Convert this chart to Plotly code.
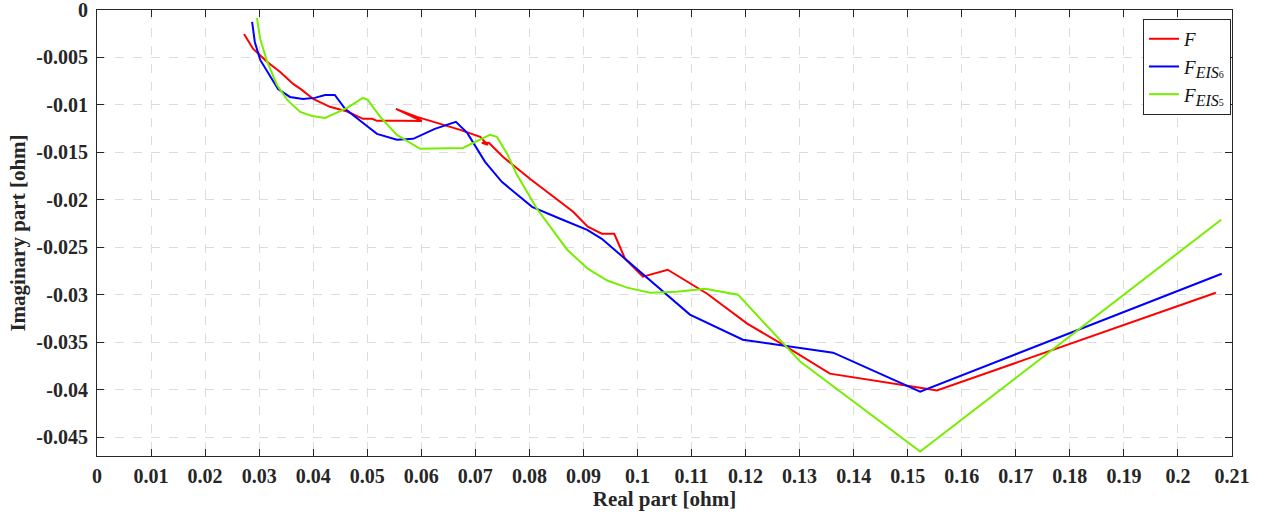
import plotly.graph_objects as go

# Nyquist data: real / imaginary impedance parts [ohm]
f_re = [0.0272, 0.0289, 0.0315, 0.0339, 0.0363, 0.0379, 0.0400, 0.0431, 0.0463, 0.0492,
        0.0509, 0.0518, 0.0561, 0.0601, 0.0553, 0.0592, 0.0672, 0.0709, 0.0723, 0.0712,
        0.0725, 0.0751, 0.0801, 0.0881, 0.0908, 0.0934, 0.0957, 0.0977, 0.1010, 0.1056,
        0.1129, 0.1203, 0.1269, 0.1356, 0.1523, 0.1554, 0.2070]
f_im = [-0.00253, -0.0041, -0.00547, -0.00653, -0.00779, -0.00842, -0.00937, -0.0102, -0.0107, -0.01147,
        -0.01147, -0.01168, -0.01168, -0.0117, -0.01042, -0.01126, -0.01263, -0.01337, -0.01421, -0.0140,
        -0.0140, -0.01547, -0.01779, -0.02126, -0.02284, -0.02358, -0.02358, -0.02621, -0.02811, -0.02737,
        -0.0299, -0.03305, -0.03526, -0.03832, -0.0398, -0.0401, -0.0298]

eis6_re = [0.0287, 0.0292, 0.0302, 0.0316, 0.0335, 0.0357, 0.0381, 0.0403, 0.0422, 0.0440,
           0.0459, 0.0487, 0.0518, 0.0555, 0.0585, 0.0625, 0.0664, 0.0685, 0.0718, 0.0749,
           0.0805, 0.0857, 0.0907, 0.0934, 0.0977, 0.1010, 0.1097, 0.1195, 0.1362, 0.1523,
           0.2081]
eis6_im = [-0.00126, -0.00337, -0.00526, -0.00653, -0.00832, -0.00916, -0.00937, -0.00926, -0.00895, -0.00895,
           -0.01042, -0.01168, -0.01305, -0.01368, -0.01358, -0.01253, -0.01179, -0.01295, -0.0160, -0.01811,
           -0.02074, -0.0220, -0.02316, -0.02411, -0.02621, -0.0279, -0.0321, -0.03474, -0.03611, -0.04021,
           -0.02779]

eis5_re = [0.0296, 0.0302, 0.0315, 0.0333, 0.0352, 0.0376, 0.0398, 0.0422, 0.0463, 0.0492,
           0.0501, 0.0524, 0.0555, 0.0598, 0.0677, 0.0705, 0.0727, 0.0740, 0.0759, 0.0777,
           0.0814, 0.0870, 0.0908, 0.0945, 0.0981, 0.1023, 0.1073, 0.1125, 0.1186, 0.1301,
           0.1523, 0.2080]
eis5_im = [-0.00085, -0.00305, -0.00547, -0.0079, -0.00947, -0.01074, -0.01116, -0.01137, -0.01032, -0.00926,
           -0.00947, -0.01126, -0.01316, -0.01463, -0.01453, -0.01379, -0.01316, -0.01337, -0.01516, -0.01737,
           -0.02095, -0.02526, -0.02726, -0.02853, -0.02926, -0.02979, -0.02968, -0.02937, -0.0300, -0.03705,
           -0.04653, -0.0221]

x_ticks = [0, 0.01, 0.02, 0.03, 0.04, 0.05, 0.06, 0.07, 0.08, 0.09, 0.1,
           0.11, 0.12, 0.13, 0.14, 0.15, 0.16, 0.17, 0.18, 0.19, 0.2, 0.21]
x_labels = ["0", "0.01", "0.02", "0.03", "0.04", "0.05", "0.06", "0.07", "0.08", "0.09", "0.1",
            "0.11", "0.12", "0.13", "0.14", "0.15", "0.16", "0.17", "0.18", "0.19", "0.2", "0.21"]
y_ticks = [0, -0.005, -0.01, -0.015, -0.02, -0.025, -0.03, -0.035, -0.04, -0.045]
y_labels = ["0", "-0.005", "-0.01", "-0.015", "-0.02", "-0.025", "-0.03", "-0.035", "-0.04", "-0.045"]

SERIF = "Liberation Serif"


def sub_label(base, sub, digit):
    # F with an italic EIS subscript carrying its own smaller index
    return (f"<i>{base}</i><sub><span style='font-size:16px'><i>{sub}</i></span>"
            f"<span style='font-size:10px'>{digit}</span></sub>")


fig = go.Figure()
fig.add_trace(go.Scatter(x=f_re, y=f_im, mode="lines", name="<i>F</i>",
                         line=dict(color="#ff0000", width=2)))
fig.add_trace(go.Scatter(x=eis6_re, y=eis6_im, mode="lines", name=sub_label("F", "EIS", "6"),
                         line=dict(color="#0000ff", width=2)))
fig.add_trace(go.Scatter(x=eis5_re, y=eis5_im, mode="lines", name=sub_label("F", "EIS", "5"),
                         line=dict(color="#77ee00", width=2)))

axis_common = dict(
    showline=True, linecolor="#262626", linewidth=1, mirror="ticks",
    ticks="inside", ticklen=7, tickcolor="#262626",
    showgrid=True, gridcolor="#dcdcdc", griddash="dash", gridwidth=1,
    zeroline=False, ticklabeloverflow="allow", automargin=False,
    tickfont=dict(family=SERIF, size=20, color="#262626", weight="bold"),
)

fig.update_layout(
    width=1264, height=521,
    margin=dict(l=97, r=32, t=10, b=65),
    paper_bgcolor="white", plot_bgcolor="white",
    font=dict(family=SERIF, color="#262626"),
    xaxis=dict(range=[0, 0.21], tickvals=x_ticks, ticktext=x_labels,
               ticklabelstandoff=2,
               title=dict(text="<b>Real part [ohm]</b>", font=dict(family=SERIF, size=21), standoff=0),
               **axis_common),
    yaxis=dict(range=[-0.047, 0.000001], tickvals=y_ticks, ticktext=y_labels,
               ticklabelstandoff=4,
               title=dict(text="<b>Imaginary part [ohm]</b>", font=dict(family=SERIF, size=21), standoff=4),
               **axis_common),
    legend=dict(x=0.9216, y=0.98, xanchor="left", yanchor="top",
                bgcolor="white", bordercolor="#262626", borderwidth=1,
                font=dict(family=SERIF, size=19, color="#111111"),
                itemwidth=30, tracegroupgap=0),
    showlegend=True,
)

fig.write_html("out.html")
